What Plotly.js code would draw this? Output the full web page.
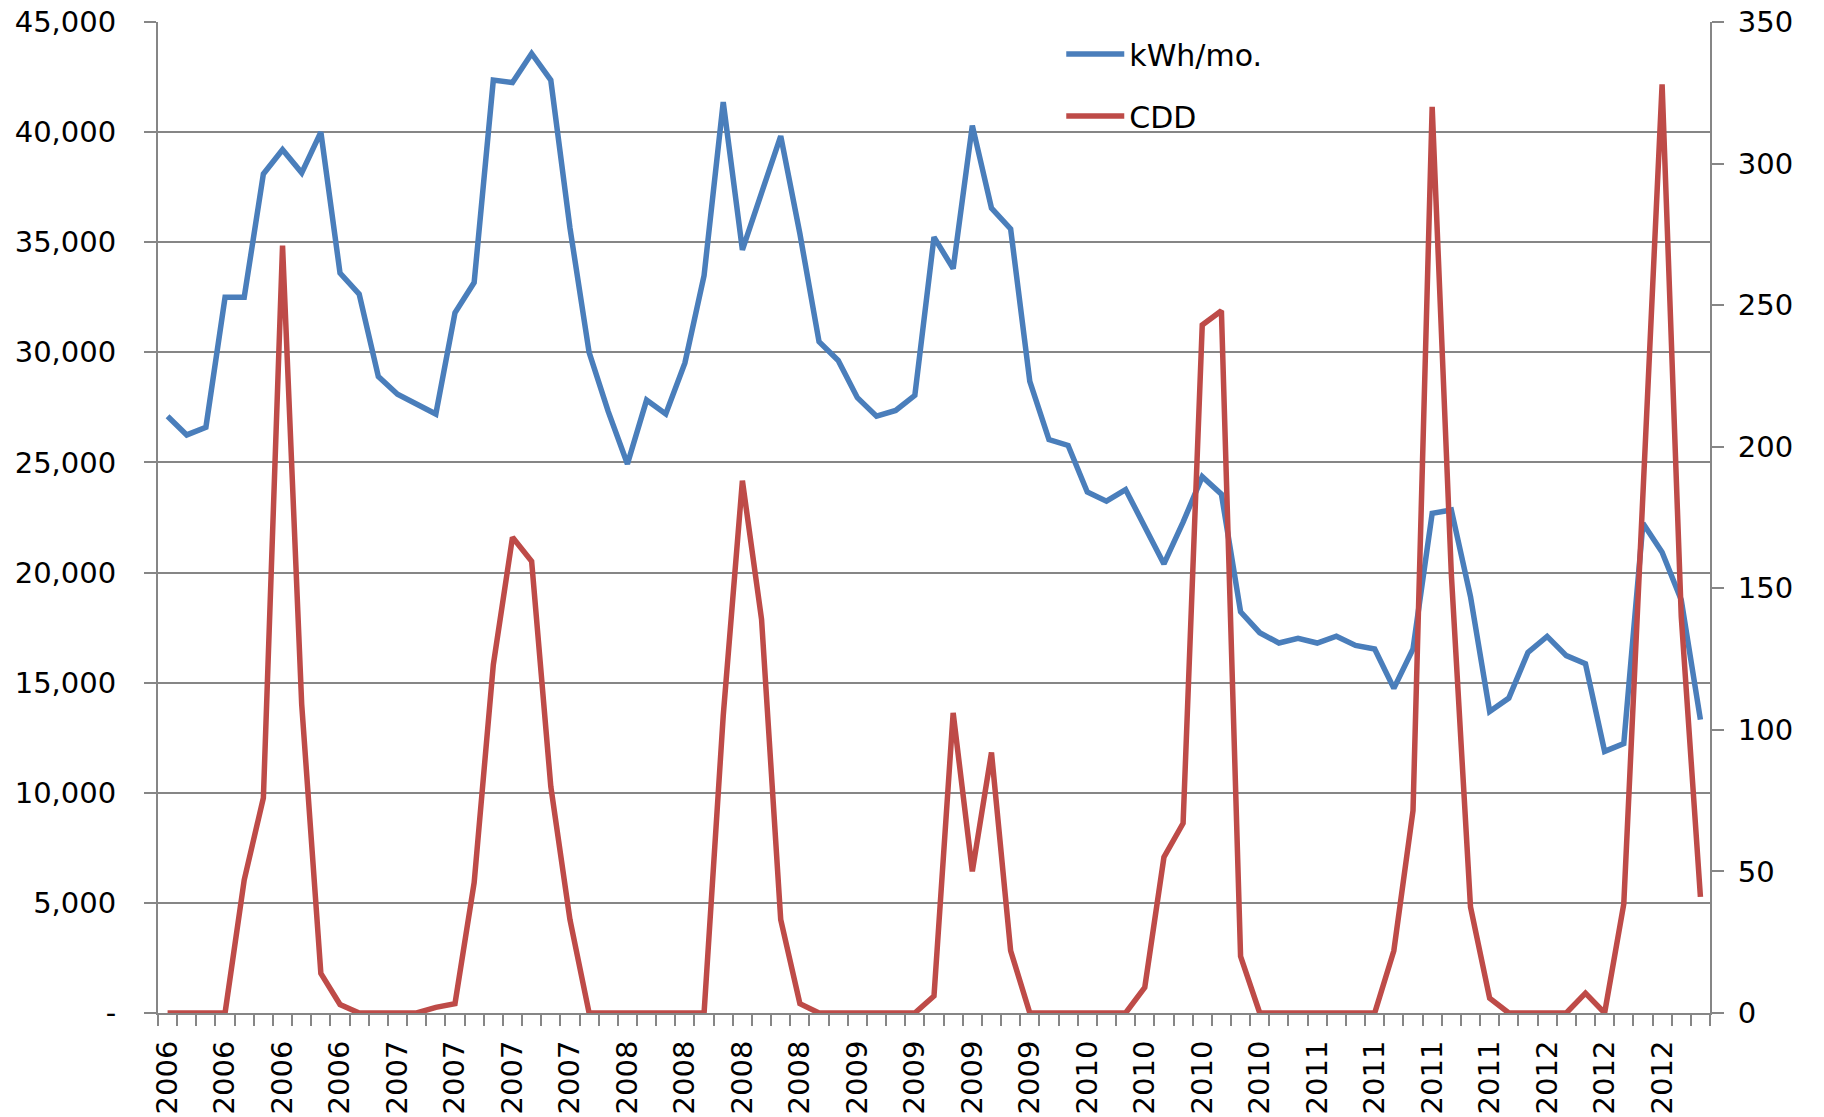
<!DOCTYPE html>
<html>
<head>
<meta charset="utf-8">
<script src="https://cdn.plot.ly/plotly-3.0.1.min.js"></script>
<style>
html,body{margin:0;padding:0;background:#fff;}
#chart{width:1824px;height:1117px;}
</style>
</head>
<body>
<div id="chart"></div>
<script>
// Monthly index, Jan 2006 .. Sep 2012
const monthIndex = Array.from({length: 81}, (_, i) => i);

const kwhPerMonth = [
  27100, 26250, 26600, 32500, 32500, 38100, 39200, 38150, 40000, 33600,
  32640, 28900, 28100, 27620, 27200, 31800, 33170, 42360, 42250, 43570,
  42360, 35650, 30000, 27310, 24930, 27830, 27200, 29520, 33490, 41360,
  34650, 37240, 39820, 35390, 30480, 29630, 27940, 27100, 27360, 28050,
  35230, 33800, 40300, 36550, 35600, 28680, 26040, 25770, 23660, 23240,
  23770, 22080, 20390, 22290, 24350, 23560, 18220, 17270, 16800, 17010,
  16800, 17110, 16690, 16530, 14740, 16530, 22690, 22840, 18910, 13690,
  14300, 16370, 17100, 16230, 15860, 11880, 12230, 22240, 20920, 18750,
  13320
];

const cdd = [
  0, 0, 0, 0, 47, 76, 271, 109, 14, 3,
  0, 0, 0, 0, 2, 3.3, 46, 123, 168, 159.5,
  80, 33, 0, 0, 0, 0, 0, 0, 0, 105,
  188, 139, 33, 3.3, 0, 0, 0, 0, 0, 0,
  6, 106, 50, 92, 22, 0, 0, 0, 0, 0,
  0, 9, 55, 67, 243, 248, 20, 0, 0, 0,
  0, 0, 0, 0, 22, 71.5, 320, 155, 37.5, 5.2,
  0, 0, 0, 0, 7, 0, 38.5, 185, 328, 140,
  41
];

// x tick labels (every third month)
const xTickPositions = [0,3,6,9,12,15,18,21,24,27,30,33,36,39,42,45,48,51,54,57,60,63,66,69,72,75,78];
const xTickLabels = ["2006","2006","2006","2006","2007","2007","2007","2007","2008","2008","2008","2008",
  "2009","2009","2009","2009","2010","2010","2010","2010","2011","2011","2011","2011","2012","2012","2012"];

const leftTickVals = [0,5000,10000,15000,20000,25000,30000,35000,40000,45000];
const leftTickText = ["-","5,000","10,000","15,000","20,000","25,000","30,000","35,000","40,000","45,000"];
const rightTickVals = [0,50,100,150,200,250,300,350];

const gridColor = '#868686';
const FONT = 'DejaVu Sans, sans-serif';

const traces = [
  {
    x: monthIndex, y: kwhPerMonth, name: 'kWh/mo.', type: 'scatter', mode: 'lines',
    line: {color: '#4A7EBB', width: 5.5}, yaxis: 'y', legendgroup: 'a'
  },
  {
    x: monthIndex, y: cdd, name: 'CDD', type: 'scatter', mode: 'lines',
    line: {color: '#BE4B48', width: 5.5}, yaxis: 'y2', legendgroup: 'b'
  }
];

const layout = {
  width: 1824, height: 1117,
  margin: {l: 158, r: 114, t: 22, b: 104, pad: 0},
  paper_bgcolor: '#fff', plot_bgcolor: '#fff',
  font: {family: FONT, size: 29, color: '#000'},
  showlegend: true,
  legend: {
    x: 0.582, y: 0.994, xanchor: 'left', yanchor: 'top',
    bgcolor: 'rgba(0,0,0,0)', borderwidth: 0,
    font: {family: FONT, size: 30, color: '#000'},
    itemwidth: 58, tracegroupgap: 20, traceorder: 'grouped'
  },
  xaxis: {
    type: 'linear', range: [-0.5, 80.5], fixedrange: true,
    tickmode: 'array', tickvals: xTickPositions, ticktext: xTickLabels,
    tickangle: -90, ticks: '', ticklabelstandoff: 14,
    showgrid: false, zeroline: false,
    showline: true, linecolor: gridColor, linewidth: 2,
    tickfont: {family: FONT, size: 29, color: '#000'},
    minor: {tickmode: 'linear', tick0: -0.5, dtick: 1, ticks: 'outside', ticklen: 11, tickwidth: 2, tickcolor: gridColor, showgrid: false}
  },
  yaxis: {
    range: [0, 45000], fixedrange: true,
    tickmode: 'array', tickvals: leftTickVals, ticktext: leftTickText,
    ticks: 'outside', ticklen: 12, tickwidth: 2, tickcolor: gridColor,
    ticklabelstandoff: 22,
    showgrid: true, gridcolor: gridColor, gridwidth: 2,
    zeroline: false, showline: true, linecolor: gridColor, linewidth: 2,
    tickfont: {family: FONT, size: 29, color: '#000'}
  },
  yaxis2: {
    range: [0, 350], fixedrange: true, overlaying: 'y', side: 'right',
    tickmode: 'array', tickvals: rightTickVals,
    ticks: 'outside', ticklen: 12, tickwidth: 2, tickcolor: gridColor,
    ticklabelstandoff: 8,
    showgrid: false, zeroline: false, showline: true, linecolor: gridColor, linewidth: 2,
    tickfont: {family: FONT, size: 29, color: '#000'}
  }
};

Plotly.newPlot('chart', traces, layout, {displayModeBar: false, staticPlot: true});
</script>
</body>
</html>
